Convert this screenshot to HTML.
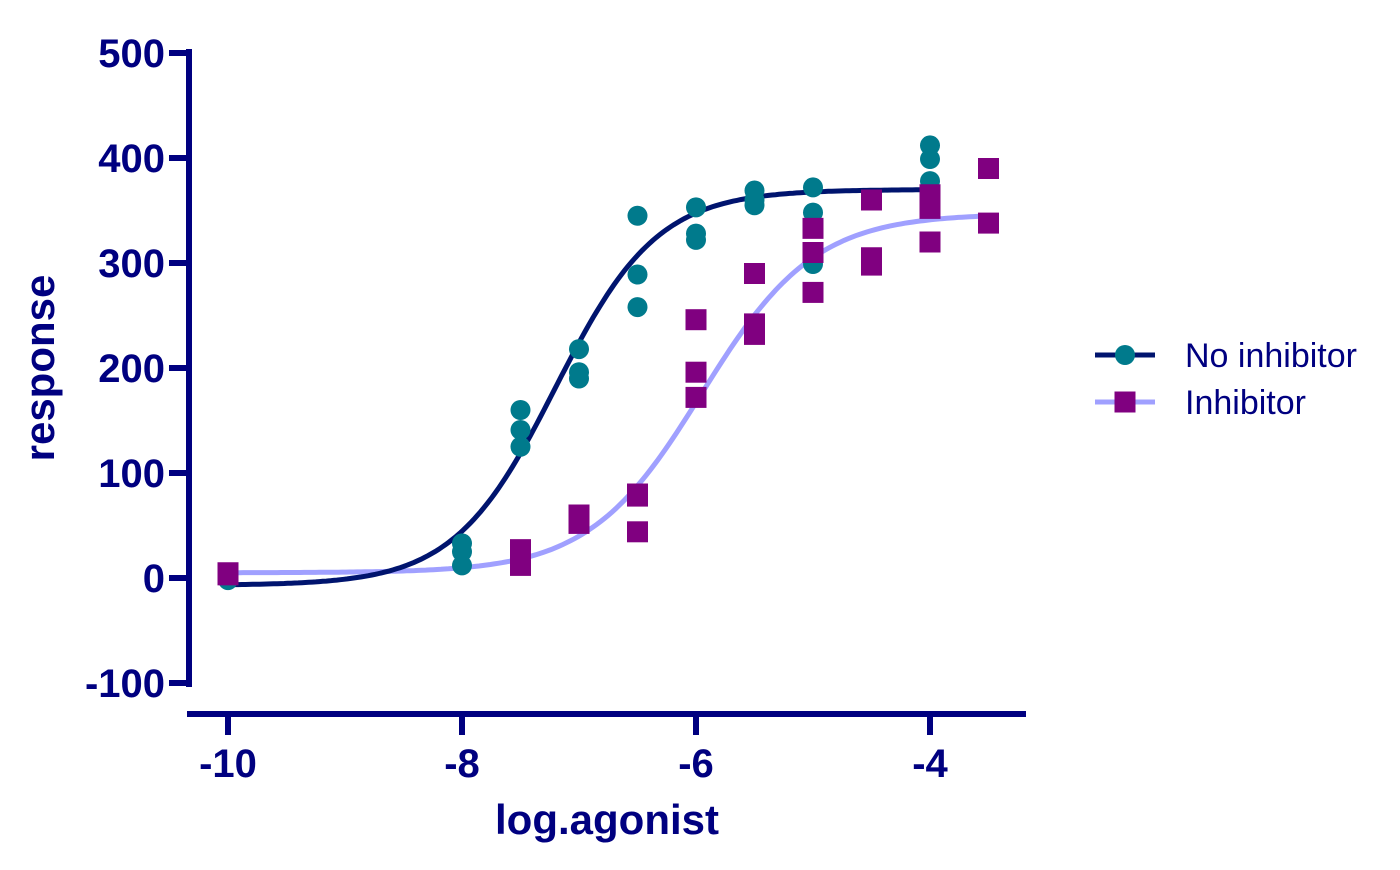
<!DOCTYPE html>
<html><head><meta charset="utf-8"><style>
body{margin:0;background:#fff;}
svg text{font-family:"Liberation Sans",Arial,sans-serif;fill:#000080;}
</style></head><body>
<svg id="chart" width="1400" height="865"></svg>
<script>
const xTicks=[-10,-8,-6,-4];
const yTicks=[-100,0,100,200,300,400,500];
const noInhX=[-10,-8,-8,-8,-7.5,-7.5,-7.5,-7,-7,-7,-6.5,-6.5,-6.5,-6,-6,-6,-5.5,-5.5,-5.5,-5,-5,-5,-4,-4,-4];
const noInhY=[-2,33,25,12,160,141,125,218,196,190,345,289,258,353,328,322,369,360,355,372,348,299,412,399,378];
const inhX=[-10,-10,-7.5,-7.5,-7.5,-7,-7,-7,-6.5,-6.5,-6.5,-6,-6,-6,-5.5,-5.5,-5.5,-5,-5,-5,-4.5,-4.5,-4.5,-4,-4,-4,-3.5,-3.5];
const inhY=[5,3,27,20,12,60,55,52,80,78,44,246,196,172,290,242,232,333,310,272,360,305,298,365,352,320,390,338];
const noInhFit=[-7,370,-7.2,1.0];   // bottom, top, logEC50, hill
const inhFit=[5,347,-5.95,0.9];

const NS="http://www.w3.org/2000/svg";
const svg=document.getElementById('chart');
const xs=v=>228+(v+10)*117;
const ys=v=>578-v*1.05;
function mk(t,a,p){const e=document.createElementNS(NS,t);for(const k in a)e.setAttribute(k,a[k]);(p||svg).appendChild(e);return e;}

let e=mk('line',{x1:189,y1:49,x2:189,y2:687,stroke:'#000080','stroke-width':6});


e=mk('line',{x1:187,y1:714,x2:1026,y2:714,stroke:'#000080','stroke-width':6});


yTicks.forEach(v=>{
  const y=ys(v);
  let t=mk('line',{x1:169,y1:y,x2:192,y2:y,stroke:'#000080','stroke-width':6});
  
  
  let l=mk('text',{x:165,y:y+14,'text-anchor':'end','font-size':40,'font-weight':'bold'});
  l.textContent=v;
  
  
});
xTicks.forEach(v=>{
  const x=xs(v);
  let t=mk('line',{x1:x,y1:711,x2:x,y2:735,stroke:'#000080','stroke-width':6});
  
  
  let l=mk('text',{x:x,y:777,'text-anchor':'middle','font-size':40,'font-weight':'bold'});
  l.textContent=v;
  
  
});
e=mk('text',{x:607,y:834,'text-anchor':'middle','font-size':42,'font-weight':'bold'});
e.textContent='log.agonist';


e=mk('text',{x:54,y:368,'text-anchor':'middle','font-size':42,'font-weight':'bold',transform:'rotate(-90 54 368)'});
e.textContent='response';



function curve(p,x0,x1){
  let d='';
  for(let i=0;i<=200;i++){const x=x0+(x1-x0)*i/200;
    const y=p[0]+(p[1]-p[0])/(1+Math.pow(10,(p[2]-x)*p[3]));
    d+=(i?'L':'M')+xs(x).toFixed(1)+' '+ys(y).toFixed(1);}
  return d;
}
e=mk('path',{d:curve(inhFit,-10,-3.5),fill:'none',stroke:'#A0A0FF','stroke-width':5});


e=mk('path',{d:curve(noInhFit,-10,-4),fill:'none',stroke:'#00146E','stroke-width':5});



noInhX.forEach((x,i)=>{
  const c=mk('circle',{cx:xs(x),cy:ys(noInhY[i]),r:10,fill:'#007A8C'});
  
  
});
inhX.forEach((x,i)=>{
  const r=mk('rect',{x:xs(x)-10.5,y:ys(inhY[i])-10.5,width:21,height:21,fill:'#800080'});
  
  
});

e=mk('line',{x1:1095,y1:355,x2:1155,y2:355,stroke:'#00146E','stroke-width':5});


e=mk('circle',{cx:1125,cy:355,r:10,fill:'#007A8C'});


e=mk('text',{x:1185,y:367,'font-size':34});
e.textContent='No inhibitor';


e=mk('line',{x1:1095,y1:402,x2:1155,y2:402,stroke:'#A0A0FF','stroke-width':5});


e=mk('rect',{x:1114.5,y:391.5,width:21,height:21,fill:'#800080'});


e=mk('text',{x:1185,y:414,'font-size':34});
e.textContent='Inhibitor';


</script>
</body></html>
